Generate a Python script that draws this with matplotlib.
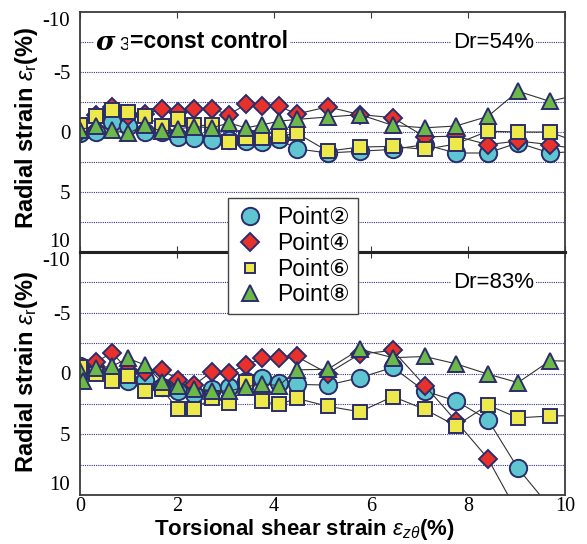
import matplotlib
matplotlib.use('Agg')
import matplotlib.pyplot as plt
from matplotlib import font_manager as fm
from matplotlib.lines import Line2D

# ---------------- data ----------------
x_steps = [0, 0.33, 0.66, 0.99, 1.34, 1.69, 2.02, 2.35, 2.72, 3.07, 3.42, 3.75,
           4.10, 4.47, 5.11, 5.77, 6.45, 7.11, 7.75, 8.41, 9.03, 9.69, 10.35]
x_b8 = [0, 0.07, 0.33, 0.66, 0.99, 1.34, 1.69, 2.02, 2.35, 2.72, 3.07, 3.42, 3.75,
        4.10, 4.47, 5.11, 5.77, 6.45, 7.11, 7.75, 8.41, 9.03, 9.69, 10.35]

# Dr = 54 %
top_p2 = [0.05, 0.0, -0.8, -0.5, 0.0, 0.0, 0.4, 0.5, 0.7, 0.7, 0.75, 0.8,
          0.6, 1.4, 1.75, 1.6, 1.45, 1.05, 1.75, 1.75, 0.9, 1.75, 1.6]
top_p4 = [0.0, -1.4, -2.1, -1.3, -1.5, -1.9, -1.7, -1.9, -1.9, -1.45, -2.3, -2.2,
          -2.15, -1.5, -2.1, -1.45, -1.2, 0.4, 0.35, 1.05, 0.75, 1.05, 1.5]
top_p6 = [-0.6, -1.3, -1.85, -1.7, -1.35, -0.5, -1.05, -0.55, -0.55, 0.85, 0.5, 0.5,
          0.35, 0.1, 1.6, 1.25, 1.2, 1.45, 1.0, -0.07, 0.0, 0.0, 1.0]
top_p8 = [-0.2, -0.5, -0.2, 0.1, -0.55, -0.05, -0.25, -0.45, -0.35, -0.75, -0.35, -0.6,
          -0.9, -1.05, -1.25, -1.45, -0.55, -0.35, -0.5, -1.3, -3.4, -2.55, -3.2]

# Dr = 83 %
bot_p2 = [-0.6, -0.3, 0.2, 0.6, 0.55, 1.15, 1.45, 1.7, 1.3, 1.15, 0.6, 0.4,
          0.8, 0.9, 0.95, 0.35, -0.5, 1.45, 2.25, 3.8, 7.8, 11.0]
bot_p4 = [0.0, -0.95, -1.7, -0.3, -0.15, -0.3, 0.5, 0.95, -0.15, -0.05, -0.7, -1.25,
          -1.3, -1.4, 0.0, -1.6, -1.9, 1.0, 3.9, 7.0, 11.5]
bot_p6 = [-0.5, 0.0, 0.65, 0.2, 1.45, 1.3, 2.95, 2.95, 2.0, 2.4, 0.7, 2.3,
          2.55, 2.05, 2.7, 3.15, 1.9, 2.95, 4.3, 2.6, 3.65, 3.5, 3.45]
bot_p8 = [-0.2, 0.6, -0.45, -0.6, -1.25, -0.7, 0.7, 1.0, 1.25, 1.4, 1.45, 1.1, 0.85,
          1.0, -0.3, -0.35, -2.0, -1.3, -1.4, -0.8, 0.05, 0.75, -1.05, -1.0]

legend_labels = ['Point②', 'Point④', 'Point⑥', 'Point⑧']
y_ticks = [-10, -5, 0, 5, 10]
x_ticks = [0, 2, 4, 6, 8, 10]

# ---------------- fonts ----------------
names = {f.name for f in fm.fontManager.ttflist}
if 'Liberation Sans Narrow' in names:
    sans = 'Liberation Sans Narrow'
else:
    sans = 'Liberation Sans'
fam = [sans, 'DejaVu Sans', 'Noto Sans CJK JP']
serif = 'Liberation Serif'
plt.rcParams['axes.unicode_minus'] = False
plt.rcParams['mathtext.fontset'] = 'custom'
plt.rcParams['mathtext.rm'] = sans
plt.rcParams['mathtext.it'] = sans + ':italic'
plt.rcParams['mathtext.bf'] = sans + ':bold'

# ---------------- styles ----------------
edge = '#2b2d6b'
styles = [
    dict(marker='o', ms=12.5, mfc='#5ec5d1'),
    dict(marker='D', ms=9.0, mfc='#e8312b'),
    dict(marker='s', ms=9.5, mfc='#eee94a'),
    dict(marker='^', ms=12.0, mfc='#6cb94a'),
]

fig = plt.figure(figsize=(5.87, 5.44), dpi=100)
L, R = 80 / 587, 565 / 587
ax1 = fig.add_axes([L, 1 - 252 / 544, R - L, 240 / 544])
ax2 = fig.add_axes([L, 1 - 495 / 544, R - L, 243 / 544])


def draw(ax, series):
    handles = []
    for (xs, ys), st in zip(series, styles):
        h, = ax.plot(xs, ys, color='#333333', lw=0.8, marker=st['marker'],
                     ms=st['ms'], mfc=st['mfc'], mec=edge, mew=1.4, clip_on=True)
        handles.append(h)
    ax.set_xlim(0, 10)
    ax.set_ylim(10, -10)
    ax.set_yticks(y_ticks)
    ax.set_xticks(x_ticks)
    for yv in [-7.5, -5, -2.5, 0, 2.5, 5, 7.5]:
        ax.axhline(yv, color='#34348a', lw=0.8, ls=(0, (1, 1)), zorder=0)
    for sp in ax.spines.values():
        sp.set_color('#3a3a3a')
        sp.set_linewidth(1.3)
    ax.tick_params(axis='y', length=0, pad=7, labelsize=15)
    for lab in ax.get_yticklabels():
        lab.set_fontfamily(serif)
    labs = ax.get_yticklabels()
    labs[0].set_verticalalignment('top')
    labs[-1].set_verticalalignment('bottom')
    return handles


handles = draw(ax1, [(x_steps, top_p2), (x_steps, top_p4), (x_steps, top_p6), (x_steps, top_p8)])
draw(ax2, [(x_steps[:len(bot_p2)], bot_p2), (x_steps[:len(bot_p4)], bot_p4),
           (x_steps, bot_p6), (x_b8, bot_p8)])

ax1.tick_params(axis='x', which='both', top=True, bottom=True, direction='in',
                length=4, labelbottom=False, color='#3a3a3a')
ax2.tick_params(axis='x', which='both', top=True, bottom=False, direction='in',
                length=4, labelsize=14.5, pad=1.5, color='#3a3a3a')
for lab in ax2.get_xticklabels():
    lab.set_fontfamily(serif)
ax1.spines['bottom'].set_linewidth(2.2)
ax2.spines['top'].set_linewidth(2.2)
ax1.spines['bottom'].set_color('#222222')
ax2.spines['top'].set_color('#222222')

# texts
bb = dict(facecolor='white', edgecolor='none', pad=1.5)
ax1.text(0.033, 0.875, 'σ', transform=ax1.transAxes, fontsize=19,
         fontstyle='italic', fontweight='bold', family=['DejaVu Serif'], va='center', ha='left', bbox=bb)
ax1.text(0.082, 0.86, '3', transform=ax1.transAxes, fontsize=13,
         family=fam, va='center', ha='left', bbox=bb)
ax1.text(0.103, 0.875, '=const control', transform=ax1.transAxes, fontsize=16.5,
         fontweight='bold', family=fam, va='center', ha='left', bbox=bb)
ax1.text(0.937, 0.875, 'Dr=54%', transform=ax1.transAxes, fontsize=16,
         family=fam, va='center', ha='right', bbox=bb)
ax2.text(0.937, 0.875, 'Dr=83%', transform=ax2.transAxes, fontsize=16,
         family=fam, va='center', ha='right', bbox=bb)

ylab = r'Radial strain $\varepsilon_{\rm r}$(%)'
fig.text(27 / 587, 1 - 128 / 544, ylab, rotation=90, ha='center', va='center',
         fontsize=17, fontweight='bold', family=fam)
fig.text(27 / 587, 1 - 372 / 544, ylab, rotation=90, ha='center', va='center',
         fontsize=17, fontweight='bold', family=fam)
fig.text(304 / 587, 1 - 542 / 544, r'Torsional shear strain $\varepsilon_{z\theta}$(%)',
         ha='center', va='bottom', fontsize=16, fontweight='bold', family=fam)

# legend
lh = [Line2D([], [], ls='none', marker=st['marker'], ms=st['ms'] * (0.8 if st['marker'] == 's' else 1.0),
             mfc=st['mfc'], mec=edge, mew=1.4) for st in styles]
leg = fig.legend(lh, legend_labels, loc='upper left',
                 bbox_to_anchor=(228 / 587, 1 - 198 / 544), frameon=True,
                 fancybox=False, framealpha=1, edgecolor='#444444',
                 prop=dict(family=fam, size=16.5), handlelength=1.2,
                 handletextpad=0.6, labelspacing=0.12, borderpad=0.35,
                 borderaxespad=0)
leg.get_frame().set_linewidth(1.0)
leg.set_zorder(10)

fig.savefig('out.png', dpi=100)
